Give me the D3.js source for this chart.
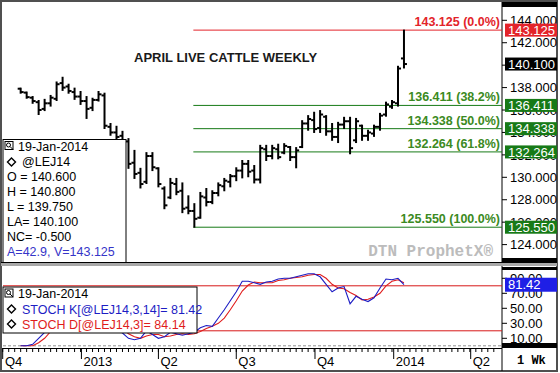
<!DOCTYPE html>
<html>
<head>
<meta charset="UTF-8">
<title>April Live Cattle Weekly</title>
<script src="https://d3js.org/d3.v7.min.js"></script>
<style>
  body { margin: 0; background: #fff; }
  svg { display: block; font-family: "Liberation Sans", Arial, sans-serif; }
</style>
</head>
<body>
<svg id="chart" width="560" height="373"></svg>
<script>
// weekly bars, first one is the week of 22-Oct-2012
const firstWeek = new Date(2012, 9, 22);
const opens  = [137.90,137.55,137.10,136.70,136.10,136.60,137.00,138.40,138.10,137.60,
                137.20,136.80,136.20,136.90,137.30,134.50,134.00,133.70,133.20,131.30,
                130.40,129.60,131.90,130.80,129.00,128.20,129.40,128.80,127.30,127.00,
                126.40,128.20,127.80,128.60,129.20,129.60,130.10,130.60,131.20,130.60,
                129.80,132.50,131.90,132.50,132.20,132.70,131.80,132.70,134.80,135.10,
                134.40,135.40,134.10,133.60,134.70,135.00,133.30,134.60,133.70,133.90,
                134.50,135.60,136.30,136.60,140.60];
const highs  = [137.95,137.60,137.20,136.85,136.95,137.30,138.50,138.92,138.30,137.95,
                137.65,137.20,137.05,137.65,137.50,134.80,134.55,134.10,133.45,132.40,
                130.80,132.20,132.20,130.85,129.15,129.90,129.90,129.50,128.35,127.65,
                128.65,129.00,128.80,129.50,129.90,130.25,130.85,131.50,131.50,131.05,
                132.85,132.85,132.85,132.95,133.00,132.75,132.65,135.05,135.50,135.80,
                135.95,135.50,134.80,134.90,135.35,135.35,135.25,134.65,134.20,134.65,
                135.70,136.70,136.85,139.90,143.125];
const lows   = [137.50,137.05,136.60,135.60,135.95,136.35,136.85,137.75,137.50,136.95,
                136.50,135.25,135.95,136.80,134.35,133.75,133.35,133.00,130.80,129.90,
                129.05,129.45,130.60,129.15,127.20,128.10,128.45,126.85,126.75,125.55,
                126.35,127.45,127.65,128.35,128.80,129.15,129.70,129.95,130.05,129.50,
                129.50,131.50,131.65,131.65,132.10,131.50,130.85,132.65,134.20,134.00,
                134.00,133.75,133.30,133.10,134.35,132.10,133.10,133.30,133.30,133.65,
                134.20,135.45,136.15,136.35,139.75];
const closes = [137.60,137.15,136.80,136.00,136.60,137.10,138.30,138.00,137.70,137.20,
                136.80,136.10,136.90,137.40,134.60,134.00,133.60,133.20,131.20,130.30,
                129.40,131.90,130.90,129.40,127.50,129.50,128.70,127.20,127.00,126.30,
                128.30,127.80,128.60,129.30,129.70,130.10,130.60,131.20,130.50,129.80,
                132.60,131.90,132.60,131.80,132.80,131.80,132.40,134.80,135.20,134.30,
                135.60,134.10,133.60,134.70,135.00,132.60,135.00,133.70,134.00,134.50,
                135.50,136.50,136.70,139.70,140.10];
const stochK = [0,0,2,10,18,30,50,68,66,58,52,44,50,58,40,30,22,17,10,8,
                10,20,15,10,12,18,16,14,16,18,24,27,26,37,48,60,72,86,86,84,
                82,85,86,89,90,90,92,94,96,96,92,82,72,77,79,56,66,62,59,64,
                77,89,88,90,81.42];
const stochD = [0,0,0,4,10,19,33,49,61,64,59,51,49,51,49,43,31,23,16,12,
                10,13,15,15,12,13,15,16,15,16,19,23,26,30,37,48,60,73,81,85,
                84,84,84,87,88,90,91,92,94,95,95,90,82,77,76,71,67,61,62,65,
                70,80,86,88,84.14];

const fibLevels = [143.125, 136.411, 134.338, 132.264, 125.550];
const fibPct = ["0.0%", "38.2%", "50.0%", "61.8%", "100.0%"];
const lastPrice = 140.100;
const priceTicks = [124, 126, 128, 130, 132, 134, 136, 138, 140, 142, 144];
const stochTicks = [10, 30, 50, 70, 90];
const stochBands = [80, 20];
const quarterDates = ["2012-10-01","2013-01-01","2013-04-01","2013-07-01","2013-10-01","2014-01-01","2014-04-01"];
const quarterLabels = ["Q4", "2013", "Q2", "Q3", "Q4", "2014", "Q2"];
const infoLines = ["O = 140.600", "H = 140.800", "L = 139.750", "LA= 140.100", "NC= -0.500"];

const svg = d3.select("#chart");
const plotL = 3, plotR = 502, axisR = 557;
const mainBottom = 262;
const red = "#e3232a", green = "#177a17", greenText = "#3b8a22", blue = "#1d1dc4";

const dates = opens.map((_, i) => d3.timeDay.offset(firstWeek, 7 * i));
const x = d3.scaleTime()
  .domain([new Date(2012, 9, 1), new Date(2014, 3, 1)])
  .range([2.7, 470.7]);
const y = d3.scaleLinear().domain([124, 144]).range([244.6, 20.3]);
const ys = d3.scaleLinear().domain([0, 100]).range([345.8, 270.8]);

// frame + right axis area
svg.append("rect").attr("x", 1).attr("y", 1).attr("width", axisR - 1).attr("height", 370)
  .attr("fill", "#fff").attr("stroke", "#505050").attr("stroke-width", 2);
svg.append("line").attr("x1", plotR).attr("x2", plotR).attr("y1", 2).attr("y2", 371)
  .attr("stroke", "#000");
[[2, 5], [258, 4.5], [267, 3], [343, 5]].forEach(([y0, h]) => {
  svg.append("rect").attr("x", plotR).attr("y", y0).attr("width", axisR - plotR).attr("height", h).attr("fill", "#000");
});
svg.append("line").attr("x1", 1).attr("x2", axisR).attr("y1", mainBottom + 0.5).attr("y2", mainBottom + 0.5).attr("stroke", "#000");
svg.append("rect").attr("x", 1).attr("y", 263).attr("width", axisR - 1).attr("height", 3).attr("fill", "#a8a8a8");

// price axis
const pa = svg.append("g").attr("font-size", 13);
pa.selectAll("line").data(priceTicks).join("line")
  .attr("x1", plotR).attr("x2", plotR + 5).attr("y1", d => y(d)).attr("y2", d => y(d)).attr("stroke", "#000");
pa.selectAll("text").data(priceTicks).join("text")
  .attr("x", plotR + 8).attr("y", d => y(d)).attr("dy", "0.36em").text(d => d3.format(".3f")(d));

// stoch axis
const sa = svg.append("g").attr("font-size", 13);
sa.selectAll("line").data(stochTicks).join("line")
  .attr("x1", plotR).attr("x2", plotR + 5).attr("y1", d => ys(d)).attr("y2", d => ys(d)).attr("stroke", "#000");
sa.selectAll("text").data(stochTicks).join("text")
  .attr("x", plotR + 8).attr("y", d => ys(d)).attr("dy", "0.36em").text(d => d3.format(".2f")(d));

// title + watermark
svg.append("text").attr("x", 134).attr("y", 62).attr("font-size", 13).attr("font-weight", "bold")
  .attr("fill", "#1a1a1a").text("APRIL LIVE CATTLE WEEKLY");
svg.append("text").attr("x", 493).attr("y", 256).attr("text-anchor", "end")
  .attr("font-family", "'Liberation Mono', monospace").attr("font-size", 16).attr("font-weight", "bold")
  .attr("fill", "#bcbcbc").text("DTN ProphetX®");

// fibonacci lines
const lowIdx = lows.indexOf(d3.min(lows));
const fx0 = x(dates[lowIdx]) - 1;
const fib = svg.append("g");
fib.selectAll("line").data(fibLevels).join("line")
  .attr("x1", fx0).attr("x2", plotR).attr("y1", d => y(d)).attr("y2", d => y(d))
  .attr("stroke", (d, i) => i === 0 ? red : green);
fib.selectAll("text").data(fibLevels).join("text")
  .attr("x", plotR - 2).attr("y", d => y(d) - 4).attr("text-anchor", "end")
  .attr("font-size", 12.5).attr("font-weight", "bold")
  .attr("fill", (d, i) => i === 0 ? red : greenText)
  .text((d, i) => `${d3.format(".3f")(d)} (${fibPct[i]})`);

// OHLC bars
const bars = svg.append("g").attr("stroke", "#000").attr("stroke-width", 2);
const idx = d3.range(opens.length);
bars.selectAll(".hl").data(idx).join("line")
  .attr("x1", i => x(dates[i])).attr("x2", i => x(dates[i]))
  .attr("y1", i => y(highs[i]) - 0.5).attr("y2", i => y(lows[i]) + 0.5);
bars.selectAll(".o").data(idx).join("line")
  .attr("x1", i => x(dates[i]) - 3).attr("x2", i => x(dates[i]))
  .attr("y1", i => y(opens[i])).attr("y2", i => y(opens[i]));
bars.selectAll(".c").data(idx).join("line")
  .attr("x1", i => x(dates[i])).attr("x2", i => x(dates[i]) + 3)
  .attr("y1", i => y(closes[i])).attr("y2", i => y(closes[i]));

// price labels on right axis
function tag(fill, txt, yy) {
  svg.append("rect").attr("x", plotR + 3).attr("y", yy - 6.5).attr("width", axisR - plotR - 3).attr("height", 13).attr("fill", fill);
  svg.append("text").attr("x", plotR + 6).attr("y", yy).attr("dy", "0.36em").attr("font-size", 13)
    .attr("fill", "#fff").text(txt);
}
fibLevels.forEach((v, i) => tag(i === 0 ? red : green, d3.format(".3f")(v), y(v)));
tag("#000", d3.format(".3f")(lastPrice), y(lastPrice));

// info box
function diamond(g, cx, cy) {
  g.append("path").attr("d", `M${cx},${cy - 4}L${cx + 4},${cy}L${cx},${cy + 4}L${cx - 4},${cy}Z`)
    .attr("fill", "none").attr("stroke", "#000").attr("stroke-width", 1.4);
}
function icon(g, x0, y0) {
  g.append("rect").attr("x", x0).attr("y", y0).attr("width", 8).attr("height", 8).attr("fill", "none").attr("stroke", "#000");
  g.append("circle").attr("cx", x0 + 3.5).attr("cy", y0 + 3.5).attr("r", 2).attr("fill", "none").attr("stroke", "#000");
  g.append("line").attr("x1", x0 + 5).attr("y1", y0 + 5).attr("x2", x0 + 8).attr("y2", y0 + 8).attr("stroke", "#000");
}
const info = svg.append("g").attr("font-size", 12.5);
info.append("rect").attr("x", 3).attr("y", 139.5).attr("width", 123).attr("height", 123)
  .attr("fill", "#fff").attr("stroke", "#000");
icon(info, 5, 141.5);
info.append("text").attr("x", 18).attr("y", 151).text("19-Jan-2014");
diamond(info, 11.5, 162);
info.append("text").attr("x", 22).attr("y", 166).text("@LEJ14");
infoLines.forEach((t, i) => info.append("text").attr("x", 7).attr("y", 181 + 15 * i).text(t));
info.append("text").attr("x", 7).attr("y", 256).attr("fill", "#3535c8").text("A=42.9, V=143.125");

// stochastic panel
svg.append("line").attr("x1", plotL).attr("x2", plotR).attr("y1", ys(0)).attr("y2", ys(0))
  .attr("stroke", "#909090").attr("stroke-dasharray", "3,2");
svg.selectAll(".band").data(stochBands).join("line")
  .attr("x1", plotL).attr("x2", plotR).attr("y1", d => ys(d)).attr("y2", d => ys(d)).attr("stroke", "#d81818");
const sline = arr => d3.line().x((d, i) => x(dates[i])).y(d => ys(d))(arr);
svg.append("path").attr("d", sline(stochD)).attr("fill", "none").attr("stroke", "#e01c1c").attr("stroke-width", 1.1);
svg.append("path").attr("d", sline(stochK)).attr("fill", "none").attr("stroke", blue).attr("stroke-width", 1.1);

const leg = svg.append("g").attr("font-size", 12.5);
leg.append("rect").attr("x", 3).attr("y", 287).attr("width", 194).attr("height", 46)
  .attr("fill", "#fff").attr("stroke", "#000");
icon(leg, 5, 289);
leg.append("text").attr("x", 18).attr("y", 298).text("19-Jan-2014");
diamond(leg, 11.5, 309);
leg.append("text").attr("x", 22).attr("y", 313.5).attr("fill", blue)
  .text(`STOCH K[@LEJ14,3,14]= ${stochK[stochK.length - 1].toFixed(2)}`);
diamond(leg, 11.5, 324);
leg.append("text").attr("x", 22).attr("y", 328.5).attr("fill", "#e01c1c")
  .text(`STOCH D[@LEJ14,3]= ${stochD[stochD.length - 1].toFixed(2)}`);

const kLast = stochK[stochK.length - 1];
svg.append("rect").attr("x", plotR + 3).attr("y", ys(kLast) - 7).attr("width", axisR - plotR - 3).attr("height", 14).attr("fill", "#1f1fe6");
svg.append("text").attr("x", plotR + 6).attr("y", ys(kLast)).attr("dy", "0.36em").attr("font-size", 13)
  .attr("fill", "#fff").text(kLast.toFixed(2));

// time axis
svg.append("line").attr("x1", plotL).attr("x2", plotR).attr("y1", 348.5).attr("y2", 348.5).attr("stroke", "#000");
const weeks = d3.timeMonday.range(new Date(2012, 9, 1), new Date(2014, 4, 1)).filter(d => x(d) < plotR - 1);
svg.append("g").selectAll("line").data(weeks).join("line")
  .attr("x1", d => x(d)).attr("x2", d => x(d)).attr("y1", 348).attr("y2", 352).attr("stroke", "#000");
const qd = quarterDates.map(d3.timeParse("%Y-%m-%d"));
svg.append("g").selectAll("line").data(qd).join("line")
  .attr("x1", d => x(d)).attr("x2", d => x(d)).attr("y1", 348).attr("y2", 359).attr("stroke", "#000");
svg.append("g").attr("font-size", 13).selectAll("text").data(qd).join("text")
  .attr("x", d => Math.max(x(d) + 2, 5)).attr("y", 366).text((d, i) => quarterLabels[i]);
svg.append("text").attr("x", 517).attr("y", 364).attr("font-family", "'Liberation Mono', monospace")
  .attr("font-size", 12).attr("font-weight", "bold").text("1 Wk");
</script>
</body>
</html>
